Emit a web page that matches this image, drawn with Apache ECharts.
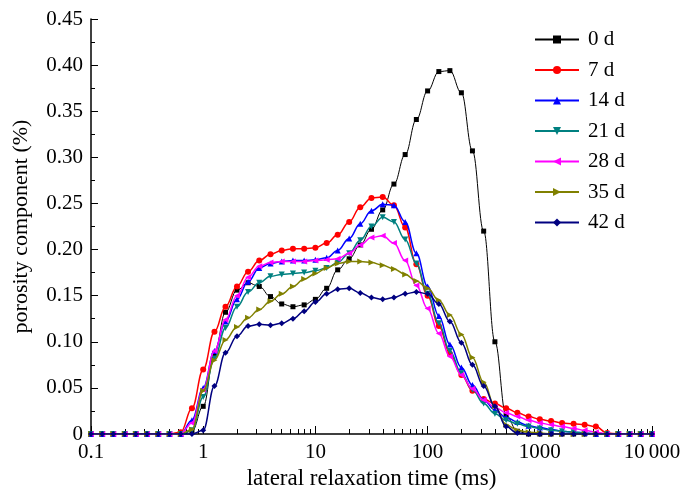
<!DOCTYPE html>
<html>
<head>
<meta charset="utf-8">
<script src="https://cdn.jsdelivr.net/npm/echarts@6/dist/echarts.min.js"></script>
<style>html,body{margin:0;padding:0;background:#fff}#c{width:683px;height:492px}</style>
</head>
<body>
<div id="c"></div>
<script>
// relaxation times (ms), 10 points per decade
const relaxationTimes = [0.1,0.126,0.158,0.2,0.251,0.316,0.398,0.501,0.631,0.794,
  1,1.26,1.58,2,2.51,3.16,3.98,5.01,6.31,7.94,
  10,12.6,15.8,20,25.1,31.6,39.8,50.1,63.1,79.4,
  100,126,158,200,251,316,398,501,631,794,
  1000,1260,1580,2000,2510,3160,3980,5010,6310,7940,10000];

const seriesNames = ['0 d','7 d','14 d','21 d','28 d','35 d','42 d'];

const d0 = [0,0,0,0,0,0,0,0,0,
  0.003,0.03,0.087,0.132,0.156,0.164,0.160,0.149,0.141,0.138,0.140,0.146,0.158,0.178,0.190,0.205,0.222,0.243,0.271,0.303,0.341,0.372,0.393,0.394,0.370,0.307,0.220,0.100,0.020,0.003,
  0,0,0,0,0,0,0,0,0,0,0,0];
const d7 = [0,0,0,0,0,0,0,0,
  0.002,0.028,0.070,0.111,0.138,0.160,0.176,0.188,0.195,0.199,0.201,0.201,0.202,0.207,0.216,0.230,0.246,0.256,0.257,0.248,0.224,0.184,0.150,0.117,0.087,0.064,0.047,0.038,0.033,0.028,0.023,0.019,0.016,0.014,0.012,0.011,0.010,0.008,0.001,
  0,0,0,0];
const d14 = [0,0,0,0,0,0,0,0,0,
  0.015,0.050,0.090,0.122,0.146,0.165,0.180,0.185,0.187,0.188,0.188,0.189,0.191,0.199,0.212,0.228,0.242,0.249,0.248,0.230,0.196,0.160,0.128,0.097,0.072,0.053,0.037,0.026,0.018,0.013,0.009,0.007,0.005,0.003,0.002,0.001,
  0,0,0,0,0,0];
const d21 = [0,0,0,0,0,0,0,0,0,
  0.004,0.040,0.082,0.115,0.138,0.154,0.164,0.171,0.173,0.174,0.175,0.177,0.180,0.186,0.196,0.210,0.225,0.235,0.230,0.211,0.185,0.152,0.120,0.090,0.066,0.048,0.033,0.022,0.015,0.011,0.008,0.006,0.004,0.003,0.002,0.001,
  0,0,0,0,0,0];
const d28 = [0,0,0,0,0,0,0,0,0,
  0.012,0.048,0.090,0.124,0.150,0.170,0.182,0.186,0.187,0.187,0.187,0.188,0.189,0.190,0.196,0.205,0.213,0.215,0.207,0.188,0.161,0.136,0.109,0.084,0.064,0.049,0.037,0.029,0.023,0.019,0.015,0.012,0.010,0.008,0.006,0.004,0.002,
  0,0,0,0,0];
const d35 = [0,0,0,0,0,0,0,0,0,
  0.005,0.047,0.080,0.102,0.116,0.126,0.135,0.144,0.152,0.160,0.168,0.174,0.180,0.185,0.187,0.187,0.186,0.183,0.179,0.173,0.166,0.158,0.145,0.129,0.108,0.083,0.056,0.030,0.010,0.004,0.002,0.001,
  0,0,0,0,0,0,0,0,0,0];
const d42 = [0,0,0,0,0,0,0,0,0,0,
  0.004,0.052,0.088,0.106,0.117,0.119,0.118,0.120,0.125,0.133,0.143,0.152,0.157,0.158,0.153,0.148,0.146,0.148,0.152,0.154,0.152,0.141,0.122,0.099,0.075,0.052,0.030,0.008,0.001,
  0,0,0,0,0,0,0,0,0,0,0,0];

const xTickLabels = {0.1:'0.1',1:'1',10:'10',100:'100',1000:'1000',10000:'10\u2009000'};

const allSeries = [d0,d7,d14,d21,d28,d35,d42];
const colors = ['#000000','#ff0000','#0000ff','#008080','#ff00ff','#808000','#000080'];
const symbols = ['rect','circle','triangle','triangle','triangle','triangle','diamond'];
const rotations = [0,0,0,180,90,-90,0];
const sizes = [5,6,6,6,6,6,6];

const minorVals = [];
[0.1,1,10,100,1000].forEach(b=>{for(let m=2;m<=9;m++) minorVals.push(+(b*m).toPrecision(3));});

const FONT = '"Liberation Serif", "Times New Roman", serif';
const chart = echarts.init(document.getElementById('c'), null, {renderer:'canvas'});
chart.setOption({
  animation:false,
  backgroundColor:'#fff',
  color: colors,
  grid:{left:91,right:31,top:19,bottom:58,containLabel:false,outerBoundsMode:'none'},
  legend:{
    orient:'vertical', left:529, top:24, padding:5, itemWidth:44, itemHeight:10, itemGap:9.5,
    textStyle:{fontFamily:FONT,fontSize:21,color:'#000',padding:[0,0,0,4]},
    data: seriesNames
  },
  xAxis:[{
    type:'log', logBase:10, min:0.1, max:10000,
    name:'lateral relaxation time (ms)', nameLocation:'middle', nameGap:23,
    nameTextStyle:{fontFamily:FONT,fontSize:23,color:'#000'},
    axisLine:{lineStyle:{color:'#000',width:1.5}},
    axisTick:{inside:true,length:8,lineStyle:{color:'#000'}},
    axisLabel:{fontFamily:FONT,fontSize:21,color:'#000',margin:8,formatter:v=>xTickLabels[v]!==undefined?xTickLabels[v]:''},
    splitLine:{show:false}
  },{
    type:'log', logBase:10, min:0.1, max:10000, position:'bottom',
    axisLine:{show:false},
    axisTick:{inside:true,length:5,customValues:minorVals,lineStyle:{color:'#000'}},
    axisLabel:{show:false},
    splitLine:{show:false}
  }],
  yAxis:{
    type:'value', min:0, max:0.45, interval:0.05,
    name:'porosity component (%)', nameLocation:'middle', nameGap:59,
    nameTextStyle:{fontFamily:FONT,fontSize:22,color:'#000'},
    axisLine:{show:true,lineStyle:{color:'#000',width:1.5}},
    axisTick:{show:true,inside:true,length:7,lineStyle:{color:'#000'}},
    minorTick:{show:true,splitNumber:2,length:4,lineStyle:{color:'#000'}},
    axisLabel:{fontFamily:FONT,fontSize:21,color:'#000',margin:8,formatter:v=>v===0?'0':v.toFixed(2)},
    splitLine:{show:false}
  },
  series: allSeries.map((arr,i)=>({
    name:seriesNames[i], type:'line', xAxisIndex:0,
    data: relaxationTimes.map((x,j)=>[x,arr[j]]),
    smooth:0.4, smoothMonotone:'x',
    symbol:symbols[i], symbolRotate:rotations[i], symbolSize:sizes[i], showSymbol:true,
    lineStyle:{width:i===0?1:1.5,color:colors[i]},
    itemStyle:{color:colors[i]},
    z: 2+i
  }))
});
</script>
</body>
</html>
